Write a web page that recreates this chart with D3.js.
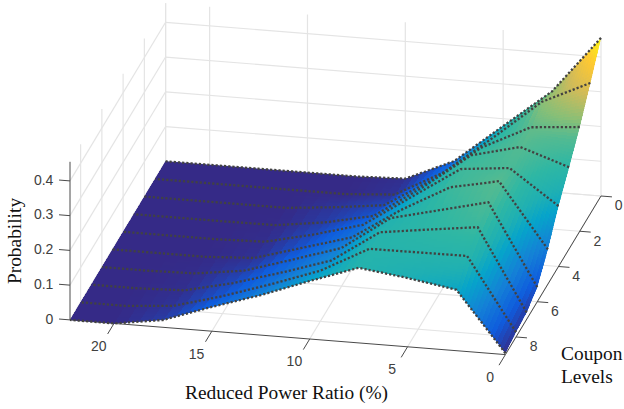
<!DOCTYPE html>
<html>
<head>
<meta charset="utf-8">
<script src="https://cdn.jsdelivr.net/npm/d3@7"></script>
<style>
  html, body { margin: 0; padding: 0; background: #fff; }
  svg { display: block; }
</style>
</head>
<body>
<script>
// values
var power_ratio = [0, 2.5, 5, 7.5, 10, 12.5, 15, 17.5, 20, 22.25];
var coupon_levels = [0, 1, 2, 3, 4, 5, 6, 7, 8, 9];

var coupon_0 = [.455, .290, .179, .067, .005, 0, 0, 0, 0, 0];
var coupon_1 = [.376, .310, .195, .085, .010, 0, 0, 0, 0, 0];
var coupon_2 = [.300, .288, .219, .115, .030, .013, 0, 0, 0, 0];
var coupon_3 = [.235, .282, .247, .143, .050, .020, .001, 0, 0, 0];
var coupon_4 = [.174, .272, .258, .167, .075, .036, .004, 0, 0, 0];
var coupon_5 = [.100, .285, .256, .180, .090, .049, .008, 0, 0, 0];
var coupon_6 = [.042, .275, .241, .207, .110, .065, .022, .003, 0, 0];
var coupon_7 = [.020, .254, .236, .217, .124, .079, .037, .005, 0, 0];
var coupon_8 = [.014, .222, .221, .220, .146, .096, .050, .011, 0, 0];
var coupon_9 = [.004, .175, .198, .216, .167, .115, .070, .021, 0, 0];
var surface = [coupon_0, coupon_1, coupon_2, coupon_3, coupon_4,
               coupon_5, coupon_6, coupon_7, coupon_8, coupon_9];

var x_ticks = [0, 5, 10, 15, 20];
var y_ticks = [0, 2, 4, 6, 8];
var z_ticks = [0, 0.1, 0.2, 0.3, 0.4];

var parula = ["#352a87", "#0f5cdd", "#1481d6", "#06a4ca", "#2eb7a4",
              "#87bf77", "#d1bb59", "#fec832", "#f9fb0e"];

var X_MAX = 22.25, Y_MAX = 9, Z_MAX = 0.455;
var width = 624, height = 409;

// finer patches where the surface is steep
var SUB_X = [16, 8, 6, 6, 6, 4, 4, 4, 2], SUB_Y = 12;

var svg = d3.select("body").append("svg")
    .attr("width", width)
    .attr("height", height);

// orthographic view: each data axis is a straight run across the screen
var x_sx = d3.scaleLinear().domain([0, X_MAX]).range([0, -435.4]);
var x_sy = d3.scaleLinear().domain([0, X_MAX]).range([0, -34.7]);
var y_sx = d3.scaleLinear().domain([0, Y_MAX]).range([0, -95.6]);
var y_sy = d3.scaleLinear().domain([0, Y_MAX]).range([0, 158.6]);
var z_sy = d3.scaleLinear().domain([0, Z_MAX]).range([0, -158.1]);

function project(x, y, z) {
    return [601 + x_sx(x) + y_sx(y), 196 + x_sy(x) + y_sy(y) + z_sy(z)];
}

var shade = d3.scaleLinear()
    .domain([0, .2, .28, .38, Z_MAX])
    .range([0, .45, .55, .82, 1]);
var palette = d3.scaleLinear()
    .domain(parula.map(function(d, i) { return i / (parula.length - 1); }))
    .range(parula);
function colour(z) { return palette(shade(z)); }

function seg(layer, a, b, stroke, w) {
    layer.append("line")
        .attr("x1", a[0]).attr("y1", a[1])
        .attr("x2", b[0]).attr("y2", b[1])
        .attr("stroke", stroke)
        .attr("stroke-width", w);
}

// walls and floor
var grid = svg.append("g").attr("class", "grid");
var GRID = "#e4e4e4", GRID_W = 1.2;

z_ticks.forEach(function(z) {
    seg(grid, project(0, 0, z), project(X_MAX, 0, z), GRID, GRID_W);
    seg(grid, project(X_MAX, 0, z), project(X_MAX, Y_MAX, z), GRID, GRID_W);
});
x_ticks.concat([X_MAX]).forEach(function(x) {
    seg(grid, project(x, 0, 0), project(x, 0, Z_MAX), GRID, GRID_W);
    if (x < X_MAX) seg(grid, project(x, 0, 0), project(x, Y_MAX, 0), GRID, GRID_W);
});
y_ticks.forEach(function(y) {
    seg(grid, project(X_MAX, y, 0), project(X_MAX, y, Z_MAX), GRID, GRID_W);
    seg(grid, project(0, y, 0), project(X_MAX, y, 0), GRID, GRID_W);
});

// axis lines and ticks
var axes = svg.append("g").attr("class", "axes");
var AXIS = "#4a4a4a";
seg(axes, project(X_MAX, Y_MAX, 0), project(0, Y_MAX, 0), AXIS, 1);
seg(axes, project(0, Y_MAX, 0), project(0, 0, 0), AXIS, 1);
seg(axes, project(X_MAX, Y_MAX, 0), project(X_MAX, Y_MAX, Z_MAX), AXIS, 1);

function tick_label(p, txt, anchor) {
    axes.append("text")
        .attr("x", p[0])
        .attr("y", p[1])
        .attr("dy", "0.36em")
        .attr("text-anchor", anchor || "middle")
        .style("font-family", "'Liberation Sans', Arial, sans-serif")
        .style("font-size", "14px")
        .style("fill", "#404040")
        .text(txt);
}

x_ticks.forEach(function(x) {
    var a = project(x, Y_MAX, 0), b = project(x, Y_MAX + 0.6, 0);
    seg(axes, a, b, AXIS, 1);
    var p = project(x, Y_MAX + 1.3, 0);
    tick_label([p[0] - 1.5, p[1] - 0.5], String(x));
});
y_ticks.forEach(function(y) {
    var a = project(0, y, 0), b = project(-0.56, y, 0);
    seg(axes, a, b, AXIS, 1);
    var p = project(-0.9, y, 0);
    tick_label([p[0], p[1] + 8], String(y));
});
z_ticks.forEach(function(z) {
    var a = project(X_MAX, Y_MAX, z), b = project(X_MAX + 0.56, Y_MAX, z);
    seg(axes, a, b, AXIS, 1);
    var p = project(X_MAX + 0.8, Y_MAX, z);
    tick_label([p[0] - 1, p[1]], z === 0 ? "0" : String(z), "end");
});

// outline of the surface, keeps the patch edges smooth
var outline = power_ratio.map(function(x, i) { return project(x, 0, surface[0][i]); })
    .concat(coupon_levels.map(function(y, j) { return project(X_MAX, y, surface[j][power_ratio.length - 1]); }))
    .concat(power_ratio.slice().reverse().map(function(x, i) {
        return project(x, Y_MAX, surface[coupon_levels.length - 1][power_ratio.length - 1 - i]);
    }))
    .concat(coupon_levels.slice().reverse().map(function(y, j) {
        return project(0, y, surface[coupon_levels.length - 1 - j][0]);
    }));

svg.append("clipPath").attr("id", "surface-clip")
    .append("polygon")
    .attr("points", outline.map(function(p) { return p.join(","); }).join(" "));

// surface, back row first
var patches = svg.append("g")
    .attr("class", "surface")
    .attr("clip-path", "url(#surface-clip)")
    .attr("shape-rendering", "crispEdges");

function bilerp(j, i, u, v) {
    return surface[j][i] * (1 - u) * (1 - v) + surface[j][i + 1] * u * (1 - v)
         + surface[j + 1][i] * (1 - u) * v + surface[j + 1][i + 1] * u * v;
}
for (var j = 0; j < coupon_levels.length - 1; j++) {
    for (var s = 0; s < SUB_Y; s++) {
        for (var i = 0; i < power_ratio.length - 1; i++) {
            var sub = SUB_X[i];
            for (var t = 0; t < sub; t++) {
                var corners = [[t, s], [t + 1, s], [t + 1, s + 1], [t, s + 1]].map(function(c) {
                    var u = c[0] / sub, v = c[1] / SUB_Y;
                    var x = power_ratio[i] + u * (power_ratio[i + 1] - power_ratio[i]);
                    var y = coupon_levels[j] + v * (coupon_levels[j + 1] - coupon_levels[j]);
                    return project(x, y, bilerp(j, i, u, v));
                });
                var fill = colour(bilerp(j, i, (t + 0.5) / sub, (s + 0.5) / SUB_Y));
                patches.append("polygon")
                    .attr("points", corners.map(function(p) { return p[0].toFixed(2) + "," + p[1].toFixed(2); }).join(" "))
                    .attr("fill", fill)
                    .attr("stroke", fill)
                    .attr("stroke-width", 1);
            }
        }
    }
}

// dotted line along every coupon level
var line = d3.line()
    .x(function(d) { return d[0]; })
    .y(function(d) { return d[1]; });

svg.append("g").attr("class", "levels")
    .selectAll("path")
    .data(coupon_levels)
    .enter().append("path")
    .attr("d", function(c, j) {
        return line(power_ratio.map(function(x, i) { return project(x, c, surface[j][i]); }));
    })
    .attr("fill", "none")
    .attr("stroke", "#424242")
    .attr("stroke-width", 2.3)
    .attr("stroke-dasharray", "2.2 2");

// titles
function title(x, y, txt, rotate) {
    svg.append("text")
        .attr("transform", "translate(" + x + "," + y + ")" + (rotate ? " rotate(-90)" : ""))
        .attr("text-anchor", rotate ? "middle" : "start")
        .style("font-family", "'Liberation Serif', 'Times New Roman', serif")
        .style("font-size", "19.4px")
        .style("fill", "#111")
        .text(txt);
}
title(21, 241, "Probability", true);
title(185, 399, "Reduced Power Ratio (%)");
title(561, 360, "Coupon");
title(561, 383, "Levels");
</script>
</body>
</html>
